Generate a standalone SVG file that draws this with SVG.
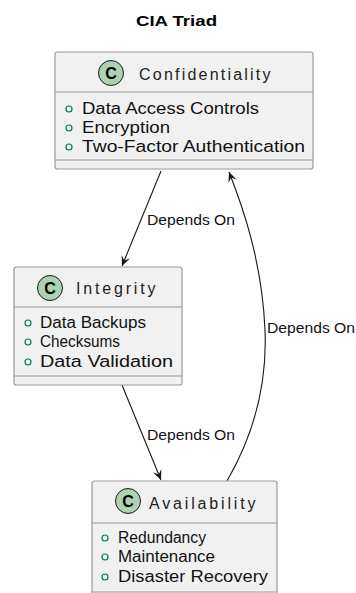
<svg xmlns="http://www.w3.org/2000/svg" width="356" height="593" viewBox="0 0 356 593">
<defs>
<style>
.box{fill:#F1F1F1;stroke:#9a9a9a;stroke-width:1.2}
.sep{stroke:#9a9a9a;stroke-width:1.2}
.spot{fill:#ADD1B2;stroke:#181818;stroke-width:1}
.spotc{font-family:"Liberation Sans",Arial,sans-serif;font-weight:bold;font-size:16px;fill:#000;text-anchor:middle}
.name{font-family:"Liberation Sans",Arial,sans-serif;font-size:16px;fill:#222;letter-spacing:1.5px}
.attr{font-family:"Liberation Sans",Arial,sans-serif;font-size:16px;fill:#111}
.mk{fill:none;stroke:#038048;stroke-width:1.2}
.edge{fill:none;stroke:#181818;stroke-width:1.1}
.lbl{font-family:"Liberation Sans",Arial,sans-serif;font-size:14px;fill:#111}
.title{font-family:"Liberation Sans",Arial,sans-serif;font-size:15.5px;font-weight:bold;fill:#000}
</style>
<marker id="arr" viewBox="-10 -6 12 12" refX="0" refY="0" markerWidth="12" markerHeight="12" markerUnits="userSpaceOnUse" orient="auto">
<path d="M0,0 L-10,-4.5 L-6,0 L-10,4.5 Z" fill="#181818"/>
</marker>
</defs>
<rect width="356" height="593" fill="#fff"/>
<text class="title" x="136" y="26" textLength="81" lengthAdjust="spacingAndGlyphs">CIA Triad</text>

<g id="connectors">
<path class="edge" d="M161,171 L122,266" marker-end="url(#arr)"/>
<text class="lbl" x="147" y="225" textLength="88" lengthAdjust="spacingAndGlyphs">Depends On</text>
<path class="edge" d="M122,385 L161,480" marker-end="url(#arr)"/>
<text class="lbl" x="147" y="440" textLength="88" lengthAdjust="spacingAndGlyphs">Depends On</text>
<path class="edge" d="M227,481 C245,450 268,400 265,330 C262,260 242,205 229,172" marker-end="url(#arr)"/>
<text class="lbl" x="267" y="333" textLength="88" lengthAdjust="spacingAndGlyphs">Depends On</text>
</g>

<g id="confidentiality">
<rect class="box" x="55" y="52" width="258" height="117" rx="2.5"/>
<line class="sep" x1="55" y1="92" x2="313" y2="92"/>
<line class="sep" x1="55" y1="160" x2="313" y2="160"/>
<circle class="spot" cx="111" cy="73" r="12.5"/>
<text class="spotc" x="111" y="78.7">C</text>
<text class="name" x="139" y="80" textLength="133" lengthAdjust="spacing">Confidentiality</text>
<circle class="mk" cx="69" cy="109" r="3"/>
<text class="attr" x="82" y="114" textLength="177" lengthAdjust="spacingAndGlyphs">Data Access Controls</text>
<circle class="mk" cx="69" cy="128" r="3"/>
<text class="attr" x="82" y="133" textLength="88" lengthAdjust="spacingAndGlyphs">Encryption</text>
<circle class="mk" cx="69" cy="147" r="3"/>
<text class="attr" x="82" y="152" textLength="223" lengthAdjust="spacingAndGlyphs">Two-Factor Authentication</text>
</g>

<g id="integrity">
<rect class="box" x="14" y="267" width="168" height="118" rx="2.5"/>
<line class="sep" x1="14" y1="307" x2="182" y2="307"/>
<line class="sep" x1="14" y1="376" x2="182" y2="376"/>
<circle class="spot" cx="50" cy="288" r="12.5"/>
<text class="spotc" x="50" y="293.7">C</text>
<text class="name" x="76" y="294" textLength="81" lengthAdjust="spacing">Integrity</text>
<circle class="mk" cx="28" cy="323" r="3"/>
<text class="attr" x="40" y="328" textLength="106" lengthAdjust="spacingAndGlyphs">Data Backups</text>
<circle class="mk" cx="28" cy="342" r="3"/>
<text class="attr" x="40" y="347" textLength="80" lengthAdjust="spacingAndGlyphs">Checksums</text>
<circle class="mk" cx="28" cy="362" r="3"/>
<text class="attr" x="40" y="367" textLength="133" lengthAdjust="spacingAndGlyphs">Data Validation</text>
</g>

<g id="availability">
<rect class="box" x="92" y="481" width="185" height="125" rx="2.5"/>
<line class="sep" x1="92" y1="523" x2="277" y2="523"/>
<line class="sep" x1="92" y1="592" x2="277" y2="592"/>
<circle class="spot" cx="128" cy="501" r="12.5"/>
<text class="spotc" x="128" y="506.7">C</text>
<text class="name" x="149" y="509" textLength="108" lengthAdjust="spacing">Availability</text>
<circle class="mk" cx="105" cy="538" r="3"/>
<text class="attr" x="118" y="543" textLength="88" lengthAdjust="spacingAndGlyphs">Redundancy</text>
<circle class="mk" cx="105" cy="557" r="3"/>
<text class="attr" x="118" y="562" textLength="97" lengthAdjust="spacingAndGlyphs">Maintenance</text>
<circle class="mk" cx="105" cy="577" r="3"/>
<text class="attr" x="118" y="582" textLength="150" lengthAdjust="spacingAndGlyphs">Disaster Recovery</text>
</g>
</svg>
